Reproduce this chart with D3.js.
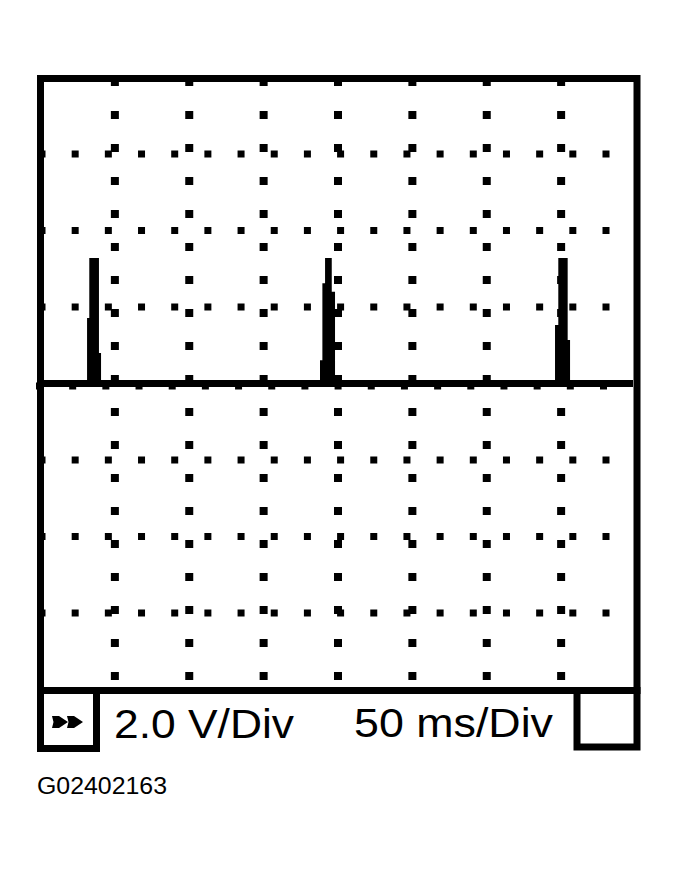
<!DOCTYPE html>
<html>
<head>
<meta charset="utf-8">
<script src="https://cdn.jsdelivr.net/npm/d3@7"></script>
<style>
  html, body { margin: 0; padding: 0; background: #fff; }
</style>
</head>
<body>
<div id="chart"></div>
<script>
// scope trace
// time in ms (50 ms/div, 8 div), volts (2 V/div, 0 V at centre)
const traceTime  = [0, 31.3, 32.8, 39.3, 40.7, 187.9, 189.5, 191.3, 195.8, 198.0, 345.9, 348.1, 354.4, 356.0, 400];
const traceVolts = [0, 1.71, 3.28, 0.80, 0,    0.61,  2.62,  3.28,  2.40,  0,     1.53,  3.28,  1.14,  0,     0];

// grid divisions
const timeTicks = [50, 100, 150, 200, 250, 300, 350];
const voltTicks = [6, 4, 2, 0, -2, -4, -6];

// labels
const voltsLabel = "2.0 V/Div";
const timeLabel = "50 ms/Div";
const figureId = "G02402163";

const width = 679;
const height = 871;
const line = 7; // frame thickness

const svg = d3.select("#chart")
  .append("svg")
  .attr("width", width)
  .attr("height", height)
  .attr("font-family", "'Liberation Sans', Arial, Helvetica, sans-serif")
  .style("display", "block");

svg.append("rect").attr("width", width).attr("height", height).attr("fill", "#fff");

// screen scales
const x = d3.scaleLinear().domain([0, 400]).range([40.5, 635.5]);
const y = d3.scaleLinear().domain([-8, 8]).range([689.5, 77.5]);

// minor dots: rows carry 18 dots, columns carry 19 dots
const rowDots = d3.scalePoint().domain(d3.range(18)).range([42, 606]);
const colDots = d3.scalePoint().domain(d3.range(19)).range([82, 676]);

const grid = svg.append("g").attr("fill", "#000");

// dots along horizontal divisions
voltTicks.forEach(v => {
  const off = v === 0 ? 2.5 : 0; // baseline row sits a bit lower
  grid.append("g").selectAll()
    .data(rowDots.domain())
    .join("rect")
    .attr("x", d => rowDots(d) - 3.5 - off)
    .attr("y", y(v) - 3.5 + off)
    .attr("width", 7)
    .attr("height", 7);
});

// dots along vertical divisions
timeTicks.forEach(t => {
  grid.append("g").selectAll()
    .data(colDots.domain())
    .join("rect")
    .attr("x", x(t) - 4)
    .attr("y", d => colDots(d) - 4)
    .attr("width", 8)
    .attr("height", 8);
});

// trace: area from zero line, baseline drawn as part of it
const trace = traceTime.map((t, i) => ({ t, v: traceVolts[i] }));

svg.append("clipPath").attr("id", "screen")
  .append("rect")
  .attr("x", 44).attr("y", 82)
  .attr("width", 589).attr("height", 605);

const area = d3.area()
  .curve(d3.curveStepAfter)
  .x(d => x(d.t))
  .y0(y(0) + line / 2)
  .y1(d => d.v === 0 ? y(0) - line / 2 : y(d.v));

svg.append("path")
  .datum(trace)
  .attr("clip-path", "url(#screen)")
  .attr("fill", "#000")
  .attr("d", area);

// frame
const frame = svg.append("g")
  .attr("fill", "none")
  .attr("stroke", "#000")
  .attr("stroke-width", line)
  .attr("stroke-linejoin", "miter");

frame.append("rect") // screen
  .attr("x", 40.5).attr("y", 78.5)
  .attr("width", 596.5).attr("height", 612);
frame.append("rect") // left button
  .attr("x", 40.5).attr("y", 690.5)
  .attr("width", 56).attr("height", 58);
frame.append("rect") // right button
  .attr("x", 577).attr("y", 690.5)
  .attr("width", 60).attr("height", 56.5);

// >> icon in left button
const arrow = "M0,0 L7,0 L16,6 L7,12 L0,12 L1.5,6 Z";
[52, 67].forEach(ax => {
  svg.append("path")
    .attr("d", arrow)
    .attr("transform", `translate(${ax},716)`)
    .attr("fill", "#000");
});

// status text
svg.append("text")
  .attr("x", 114).attr("y", 738)
  .attr("font-size", 41)
  .attr("textLength", 180)
  .attr("lengthAdjust", "spacingAndGlyphs")
  .attr("fill", "#000")
  .text(voltsLabel);

svg.append("text")
  .attr("x", 354).attr("y", 737)
  .attr("font-size", 41)
  .attr("textLength", 199)
  .attr("lengthAdjust", "spacingAndGlyphs")
  .attr("fill", "#000")
  .text(timeLabel);

svg.append("text")
  .attr("x", 37).attr("y", 794)
  .attr("font-size", 23)
  .attr("textLength", 130)
  .attr("lengthAdjust", "spacingAndGlyphs")
  .attr("fill", "#000")
  .text(figureId);
</script>
</body>
</html>
